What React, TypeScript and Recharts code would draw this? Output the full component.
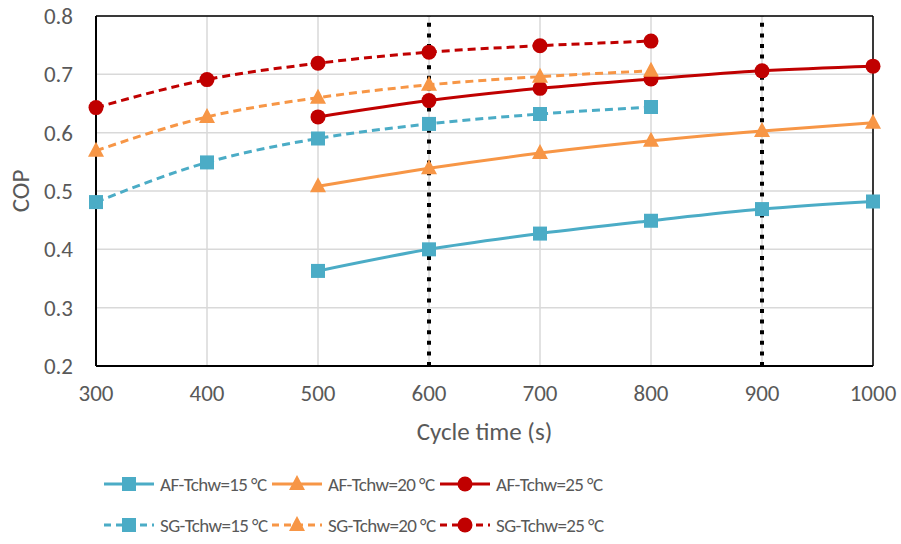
import React from "react";
import { LineChart, Line, XAxis, YAxis, CartesianGrid, ReferenceLine, Legend, Label } from "recharts";

const cycleTimes = [300, 400, 500, 600, 700, 800, 900, 1000];
const xTicks = [300, 400, 500, 600, 700, 800, 900, 1000];
const yTicks = [0.2, 0.3, 0.4, 0.5, 0.6, 0.7, 0.8];

const af15 = [null, null, 0.363, 0.4, 0.427, 0.449, 0.469, 0.482];
const af20 = [null, null, 0.508, 0.539, 0.565, 0.586, 0.603, 0.617];
const af25 = [null, null, 0.627, 0.655, 0.676, 0.692, 0.706, 0.714];
const sg15 = [0.481, 0.549, 0.59, 0.615, 0.632, 0.644, null, null];
const sg20 = [0.569, 0.627, 0.66, 0.682, 0.696, 0.706, null, null];
const sg25 = [0.643, 0.691, 0.719, 0.738, 0.749, 0.757, null, null];

const markerLines = [600, 900];

const TEAL = "#4BACC6";
const ORANGE = "#F79646";
const RED = "#C00000";
const TEXT = "#595959";
const FONT = "Carlito, Lato, sans-serif";

type SeriesDef = { key: string; name: string; values: (number | null)[]; color: string; shape: string; dashed: boolean };

const series: SeriesDef[] = [
  { key: "af15", name: "AF-Tchw=15 °C", values: af15, color: TEAL, shape: "square", dashed: false },
  { key: "af20", name: "AF-Tchw=20 °C", values: af20, color: ORANGE, shape: "triangle", dashed: false },
  { key: "af25", name: "AF-Tchw=25 °C", values: af25, color: RED, shape: "circle", dashed: false },
  { key: "sg15", name: "SG-Tchw=15 °C", values: sg15, color: TEAL, shape: "square", dashed: true },
  { key: "sg20", name: "SG-Tchw=20 °C", values: sg20, color: ORANGE, shape: "triangle", dashed: true },
  { key: "sg25", name: "SG-Tchw=25 °C", values: sg25, color: RED, shape: "circle", dashed: true },
];

const data = cycleTimes.map((t, i) => {
  const row: Record<string, number | null> = { t };
  series.forEach((s) => {
    row[s.key] = s.values[i];
  });
  return row;
});

function Marker({ shape, color, cx, cy }: { shape: string; color: string; cx: number; cy: number }) {
  if (shape === "square") {
    return <rect x={cx - 7} y={cy - 7} width={14} height={14} fill={color} />;
  }
  if (shape === "triangle") {
    return <polygon points={`${cx},${cy - 9} ${cx + 8},${cy + 6} ${cx - 8},${cy + 6}`} fill={color} />;
  }
  return <circle cx={cx} cy={cy} r={7.5} fill={color} />;
}

const makeDot = (s: SeriesDef) => (props: any) => {
  const { cx, cy, index, value } = props;
  if (value == null || cx == null || cy == null || isNaN(cx) || isNaN(cy)) return <g key={`${s.key}-${index}`} />;
  return (
    <g key={`${s.key}-${index}`}>
      <Marker shape={s.shape} color={s.color} cx={cx} cy={cy} />
    </g>
  );
};

const legendPos = [
  { x: 103, y: 20 },
  { x: 271, y: 20 },
  { x: 439, y: 20 },
  { x: 103, y: 61 },
  { x: 271, y: 61 },
  { x: 439, y: 61 },
];

function LegendContent() {
  return (
    <div style={{ position: "relative", width: 901, height: 80 }}>
      {series.map((s, i) => {
        const p = legendPos[i];
        return (
          <div key={s.key} style={{ position: "absolute", left: p.x, top: p.y - 12, height: 24, display: "flex", alignItems: "center" }}>
            <svg width={52} height={24} style={{ display: "block" }}>
              <line x1={1} y1={12} x2={51} y2={12} stroke={s.color} strokeWidth={3} strokeDasharray={s.dashed ? "7 5" : undefined} />
              <Marker shape={s.shape} color={s.color} cx={26} cy={12} />
            </svg>
            <span style={{ marginLeft: 5, fontFamily: FONT, fontSize: 19, letterSpacing: -0.6, color: TEXT, whiteSpace: "nowrap" }}>{s.name}</span>
          </div>
        );
      })}
    </div>
  );
}

export default function App() {
  return (
    <div style={{ position: "absolute", left: 0, top: 0, width: 901, height: 544, background: "#fff" }}>
      <LineChart width={901} height={544} data={data} margin={{ top: 16, right: 28, left: 0, bottom: 0 }}>
        <CartesianGrid stroke="#D9D9D9" strokeWidth={1.5} />
        <XAxis
          dataKey="t"
          type="number"
          domain={[300, 1000]}
          ticks={xTicks}
          height={98}
          tickLine={false}
          tickSize={0}
          tickMargin={19}
          axisLine={{ stroke: "#000", strokeWidth: 2 }}
          tick={{ fill: TEXT, fontSize: 23, fontFamily: FONT }}
          interval={0}
        >
          <Label value="Cycle time (s)" position="insideTop" offset={56} fill={TEXT} fontSize={25} fontFamily={FONT} />
        </XAxis>
        <YAxis
          type="number"
          domain={[0.2, 0.8]}
          ticks={yTicks}
          width={96}
          tickLine={false}
          tickSize={0}
          tickMargin={23}
          axisLine={{ stroke: "#000", strokeWidth: 2 }}
          tick={{ fill: TEXT, fontSize: 23, fontFamily: FONT }}
          tickFormatter={(v: number) => v.toFixed(1)}
          interval={0}
        >
          <Label value="COP" angle={-90} position="insideLeft" offset={20} fill={TEXT} fontSize={25} fontFamily={FONT} style={{ textAnchor: "middle" }} />
        </YAxis>
        <ReferenceLine y={0.8} stroke="#000" strokeWidth={1.5} />
        <ReferenceLine x={1000} stroke="#000" strokeWidth={1.5} />
        {series.map((s) => (
          <Line
            key={s.key}
            dataKey={s.key}
            name={s.name}
            type="monotone"
            stroke={s.color}
            strokeWidth={3}
            strokeDasharray={s.dashed ? "8 5" : undefined}
            dot={makeDot(s)}
            activeDot={false}
            connectNulls={false}
            isAnimationActive={false}
          />
        ))}
        {markerLines.map((x) => (
          <ReferenceLine key={x} x={x} stroke="#000" strokeWidth={4} strokeDasharray="4 6.6" />
        ))}
        <Legend verticalAlign="bottom" align="left" height={80} content={() => <LegendContent />} wrapperStyle={{ left: 0, width: 901 }} />
      </LineChart>
    </div>
  );
}
